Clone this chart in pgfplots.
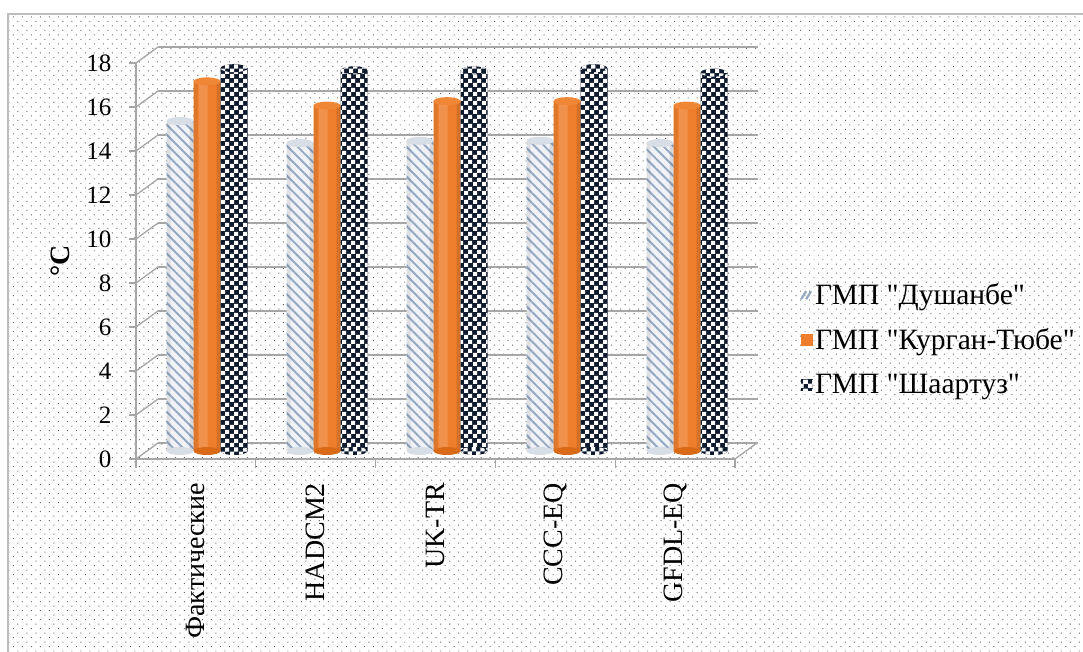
\documentclass[border=0pt]{standalone}
\usepackage{pgfplots}
\pgfplotsset{compat=1.18}
\usepackage{pgfplotstable}
\usepackage{fontspec}
\setmainfont{Liberation Serif}
\usetikzlibrary{patterns,patterns.meta,calc,backgrounds}

\definecolor{gridc}{HTML}{A6A6A6}
\definecolor{hatchc}{HTML}{93A9C3}
\definecolor{dushbase}{HTML}{F0F2F5}
\definecolor{dushtop}{HTML}{D8DEE6}
\definecolor{orangeB}{HTML}{EE7E2C}
\definecolor{orangeT}{HTML}{F08737}
\definecolor{orangeD}{HTML}{D96A18}
\definecolor{navyc}{HTML}{0E1A2E}
\definecolor{dotc}{HTML}{6A6A6A}
\definecolor{borderc}{HTML}{BDBDBD}

\pgfdeclarepatternformonly{checker}{\pgfpointorigin}{\pgfpoint{8.5pt}{8.5pt}}{\pgfpoint{8.5pt}{8.5pt}}{%
  \pgfpathrectangle{\pgfpointorigin}{\pgfpoint{4.25pt}{4.25pt}}%
  \pgfpathrectangle{\pgfpoint{4.25pt}{4.25pt}}{\pgfpoint{4.25pt}{4.25pt}}%
  \pgfusepath{fill}}

\pgfdeclareplotmark{capL}{\pgfpathellipse{\pgfpoint{-27pt}{0pt}}{\pgfpoint{13.5pt}{0pt}}{\pgfpoint{0pt}{4pt}}\pgfusepathqfill}
\pgfdeclareplotmark{capM}{\pgfpathellipse{\pgfpoint{0pt}{0pt}}{\pgfpoint{13.5pt}{0pt}}{\pgfpoint{0pt}{4pt}}\pgfusepathqfill}
\pgfdeclareplotmark{capR}{\pgfpathellipse{\pgfpoint{27pt}{0pt}}{\pgfpoint{13.5pt}{0pt}}{\pgfpoint{0pt}{4pt}}\pgfsetfillcolor{navyc}\pgfusepathqfill
  \pgfpathellipse{\pgfpoint{27pt}{0pt}}{\pgfpoint{13.5pt}{0pt}}{\pgfpoint{0pt}{4pt}}\pgfsetfillpattern{checker}{white}\pgfusepathqfill}

\pgfplotstableread{
x dush kurg shaa
0 15.0 16.8 17.4
1 14.0 15.7 17.3
2 14.1 15.9 17.3
3 14.1 15.9 17.4
4 14.0 15.7 17.2
}\datatable

\newcommand\tickfont{\fontsize{25}{28}\selectfont}
\newcommand\catfont{\fontsize{28}{31}\selectfont}
\newcommand\legfont{\fontsize{29.5}{32}\selectfont}

\begin{document}
\begin{tikzpicture}[x=1pt,y=1pt]
% back wall
\begin{axis}[name=back, at={(0,0)}, anchor=south west, scale only axis,
  width=600pt, height=396pt, xmin=-0.5, xmax=4.5, ymin=0, ymax=18,
  axis line style={draw=none}, xtick=\empty, ytick={0,2,...,18},
  yticklabels={}, major tick length=0pt, ymajorgrids,
  grid style={gridc, line width=1.3pt}]
\addplot[draw=none] coordinates {(0,0)};
\end{axis}

% front axis: ticks, labels, side wall
\begin{axis}[name=front, at={($(back.south west)+(-22pt,-16pt)$)}, anchor=south west, scale only axis,
  width=599pt, height=396pt, xmin=-0.5, xmax=4.5, ymin=0, ymax=18,
  axis lines*=left, axis line style={gridc, line width=1.3pt},
  ytick={0,2,...,18}, xtick={0,...,4},
  xticklabels={Фактические,HADCM2,UK-TR,CCC-EQ,GFDL-EQ},
  minor xtick={-0.5,0.5,...,4.5},
  major x tick style={draw=none},
  minor tick length=9pt, major tick length=7pt, tick align=outside,
  tick style={gridc, line width=1.3pt},
  /pgf/number format/assume math mode=true,
  yticklabel style={font=\tickfont, xshift=-14pt},
  xticklabel style={font=\catfont, rotate=90, anchor=east, inner sep=0pt, outer sep=17pt},
  ylabel={\textbf{°C}}, ylabel style={font=\catfont, at={(axis description cs:-0.127,0.5)}, anchor=center},
  clip=false]
\addplot[draw=none] coordinates {(0,0)};
\pgfplotsinvokeforeach{0,2,...,18}{\draw[gridc, line width=1.3pt] (axis cs:-0.5,#1) -- ++(22pt,16pt);}
\draw[gridc, line width=1.3pt] (axis cs:4.5,0) -- ++(22pt,16pt);
\end{axis}

% bars (mid depth)
\begin{axis}[name=bars, at={($(back.south west)+(-11pt,-8pt)$)}, anchor=south west, scale only axis,
  width=600pt, height=396pt, xmin=-0.5, xmax=4.5, ymin=0, ymax=18,
  hide axis, clip=false,
  legend style={at={(1.088,0.283)}, anchor=west, draw=none, fill=none,
    font=\legfont, row sep=19pt, inner sep=0pt, cells={anchor=west}},
  legend cell align=left]
% bases
\addplot[forget plot, only marks, mark=capL, mark options={fill=dushtop}] coordinates {(0,0) (1,0) (2,0) (3,0) (4,0)};
\addplot[forget plot, only marks, mark=capM, mark options={fill=orangeD}] coordinates {(0,0) (1,0) (2,0) (3,0) (4,0)};
\addplot[forget plot, only marks, mark=capR] coordinates {(0,0) (1,0) (2,0) (3,0) (4,0)};
% bars
\addplot[ybar, bar width=27pt, bar shift=-27pt, draw=none, fill=dushbase,
  postaction={pattern={Lines[angle=-45, distance=7pt, line width=1.9pt]}, pattern color=hatchc},
  legend image code/.code={\draw[hatchc, line width=2.2pt] (0pt,-5pt) -- (5pt,3pt) (5pt,-5pt) -- (10pt,3pt);}]
  table[x=x, y=dush] {\datatable};
\addlegendentry{ГМП \textquotedbl Душанбе\textquotedbl}
\addplot[ybar, bar width=27pt, bar shift=0pt, draw=none, fill=orangeB,
  legend image code/.code={\fill[orangeB] (0pt,-6pt) rectangle (12pt,6pt);}]
  table[x=x, y=kurg] {\datatable};
\addlegendentry{ГМП \textquotedbl Курган-Тюбе\textquotedbl}
\addplot[ybar, bar width=27pt, bar shift=27pt, draw=none, fill=navyc,
  postaction={pattern=checker, pattern color=white},
  legend image code/.code={\fill[navyc] (0pt,-6pt) rectangle (12pt,6pt); \fill[pattern=checker, pattern color=white] (0pt,-6pt) rectangle (12pt,6pt);}]
  table[x=x, y=shaa] {\datatable};
\addlegendentry{ГМП \textquotedbl Шаартуз\textquotedbl}
% cylinder shading on orange bars
\addplot[forget plot, ybar, bar width=9pt, bar shift=-4pt, draw=none, fill=white, fill opacity=0.16] table[x=x, y=kurg] {\datatable};
\addplot[forget plot, ybar, bar width=4pt, bar shift=11.5pt, draw=none, fill=black, fill opacity=0.10] table[x=x, y=kurg] {\datatable};
\addplot[forget plot, ybar, bar width=4pt, bar shift=-11.5pt, draw=none, fill=black, fill opacity=0.06] table[x=x, y=kurg] {\datatable};
% cylinder shading on grey bars
\addplot[forget plot, ybar, bar width=4pt, bar shift=-15.5pt, draw=none, fill=black, fill opacity=0.10] table[x=x, y=dush] {\datatable};
\addplot[forget plot, ybar, bar width=4pt, bar shift=-38.5pt, draw=none, fill=black, fill opacity=0.07] table[x=x, y=dush] {\datatable};
% tops
\addplot[forget plot, only marks, mark=capL, mark options={fill=dushtop}] table[x=x, y=dush] {\datatable};
\addplot[forget plot, only marks, mark=capM, mark options={fill=orangeT}] table[x=x, y=kurg] {\datatable};
\addplot[forget plot, only marks, mark=capR] table[x=x, y=shaa] {\datatable};
\end{axis}

\coordinate (O) at ($(back.south west)+(-158pt,-208pt)$);
\begin{pgfonlayer}{background}
\fill[white] ($(O)+(8pt,-10pt)$) rectangle ($(O)+(1095pt,637pt)$);
\fill[pattern={Dots[distance=6.36pt, angle=45, radius=0.7pt]}, pattern color=dotc] ($(O)+(8pt,-10pt)$) rectangle ($(O)+(1095pt,637pt)$);
\draw[borderc, line width=1.6pt] ($(O)+(8pt,-10pt)$) rectangle ($(O)+(1095pt,637pt)$);
\end{pgfonlayer}
\pgfresetboundingbox
\path[use as bounding box] (O) rectangle ($(O)+(1083pt,651pt)$);
\end{tikzpicture}
\end{document}
